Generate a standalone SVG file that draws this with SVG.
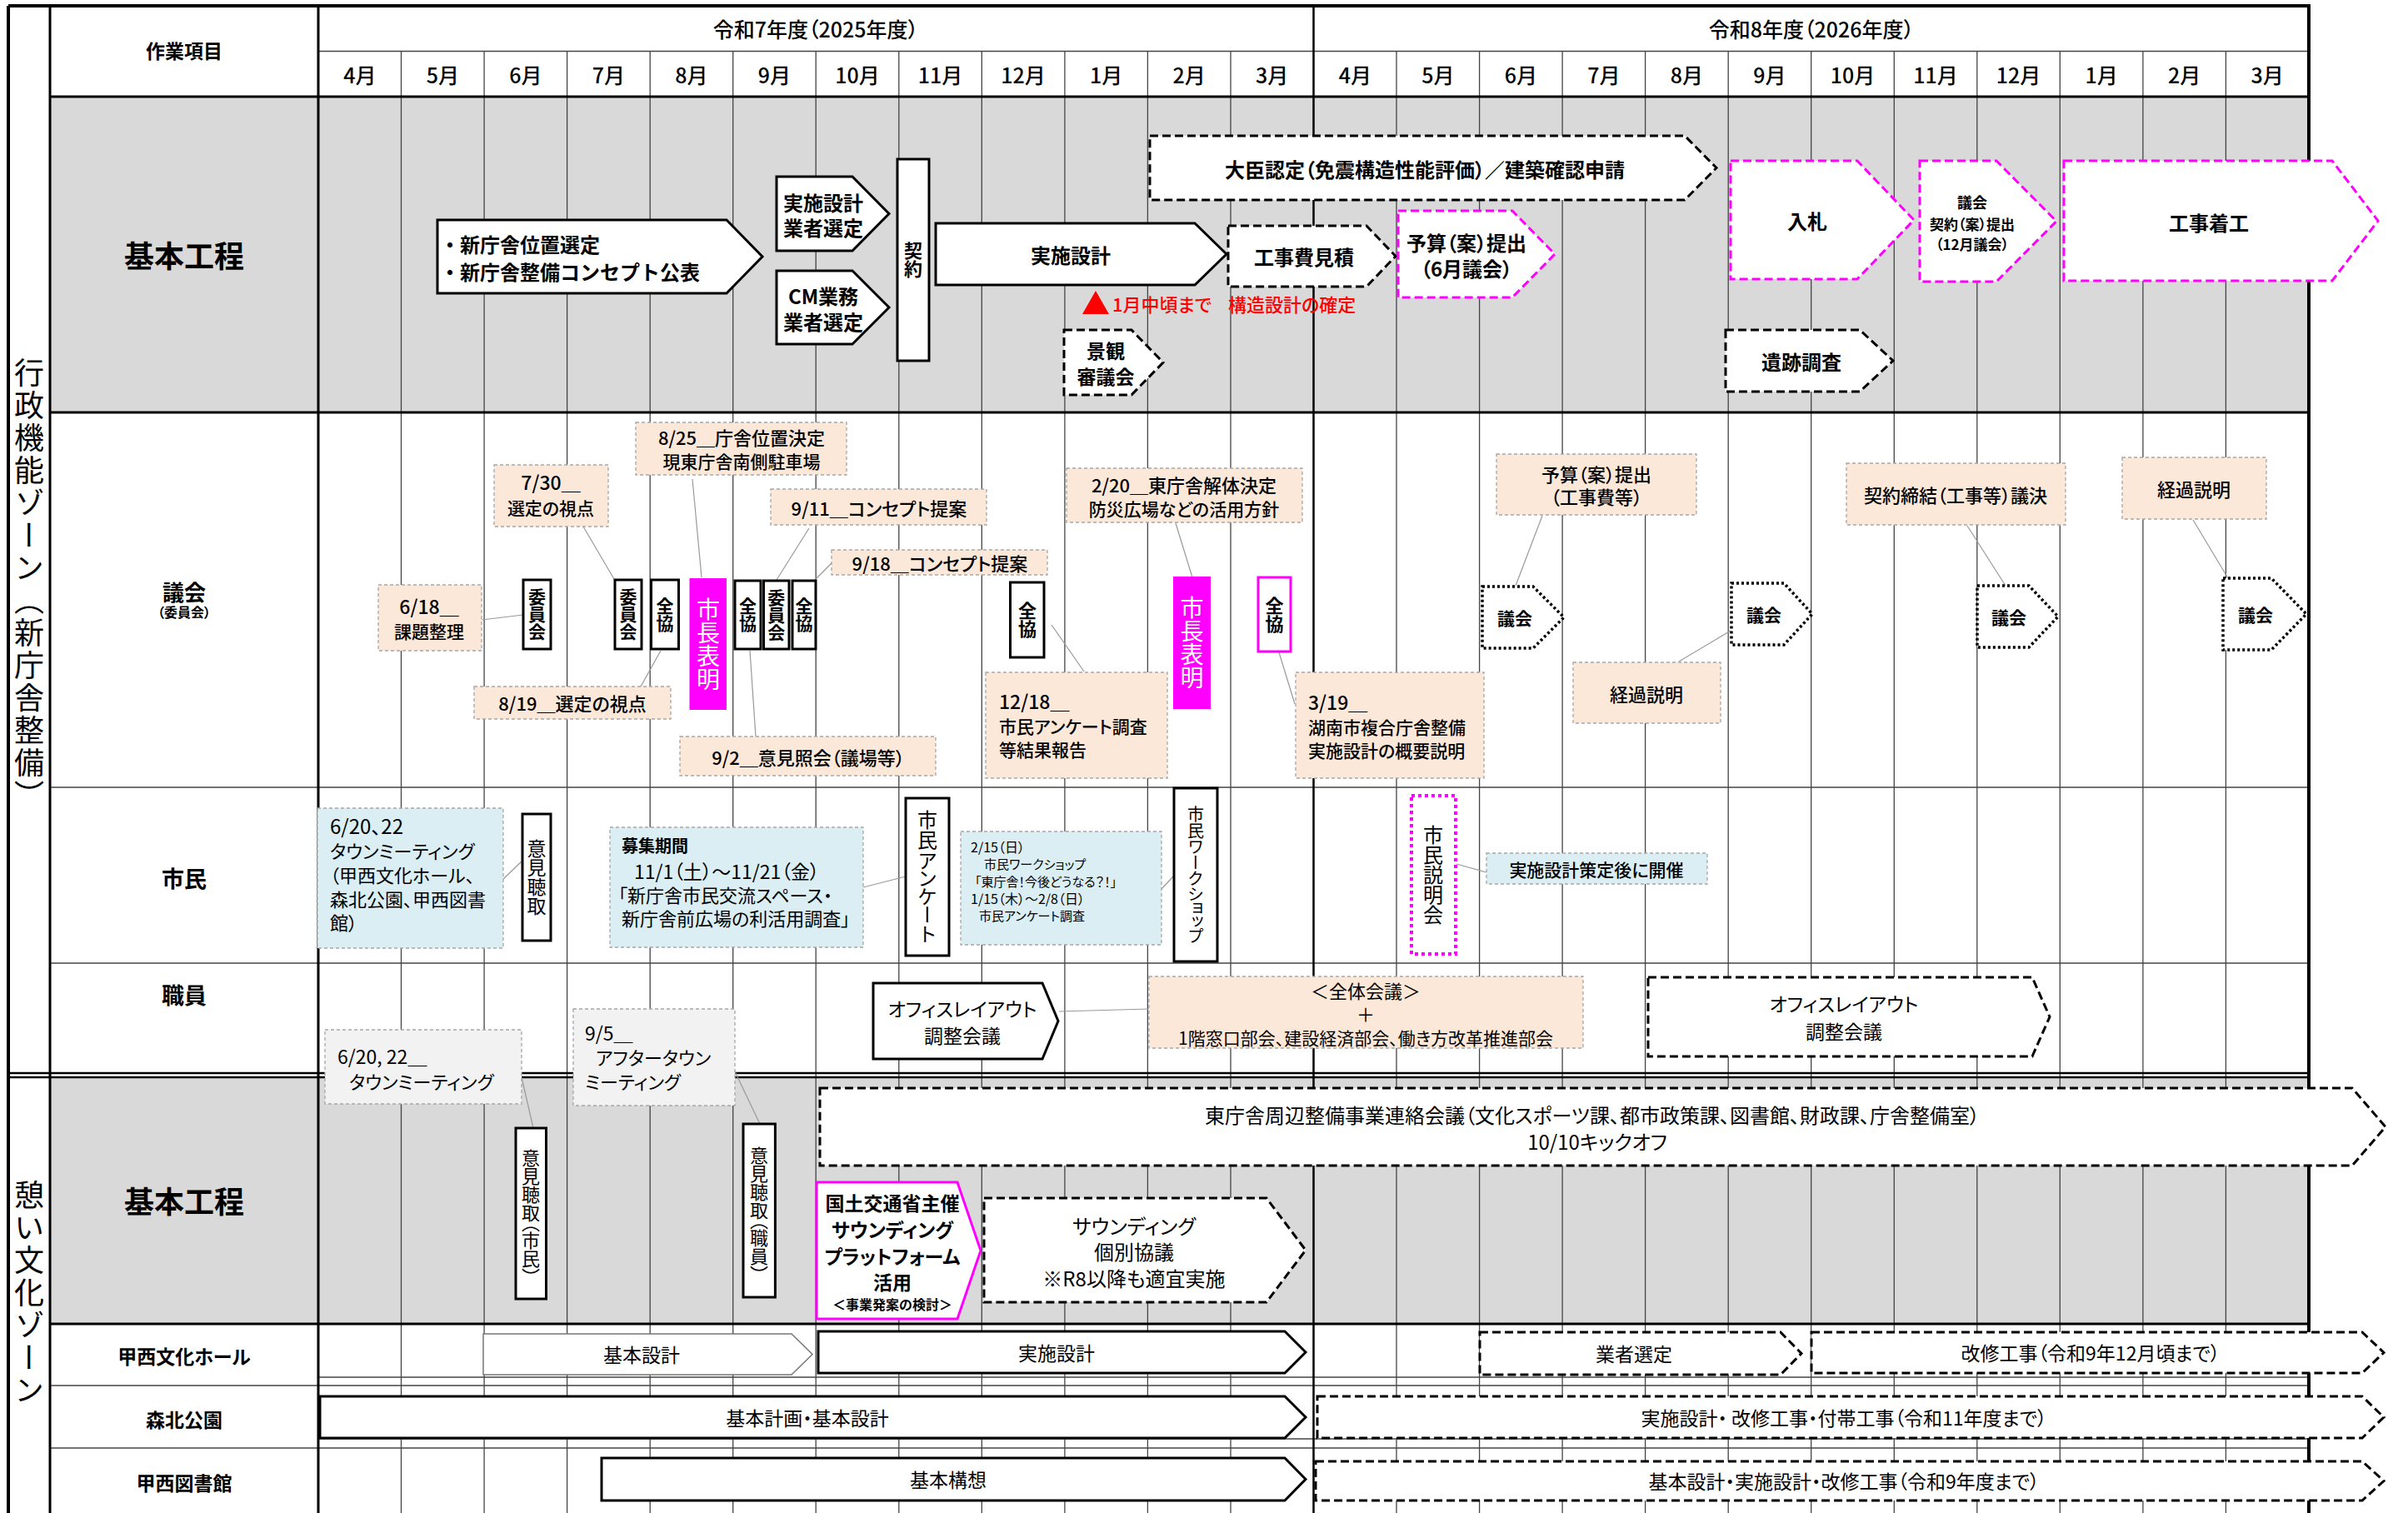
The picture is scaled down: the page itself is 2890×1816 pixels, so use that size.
<svg xmlns="http://www.w3.org/2000/svg" width="2890" height="1816" viewBox="0 0 2890 1816">
<style>
text{font-family:"Noto Sans CJK JP","Noto Sans",sans-serif;dominant-baseline:central;fill:#000;font-feature-settings:"palt"}
.c{text-anchor:middle}
.b{font-weight:bold}
.m{font-weight:500}
.v{writing-mode:vertical-rl;text-anchor:middle;font-feature-settings:"vpal"}
.np{font-feature-settings:normal}
.gl{stroke:#444;stroke-width:1.3}
.tk{stroke:#000;stroke-width:3.5}
.sol{fill:#fff;stroke:#000;stroke-width:3}
.thin{fill:#fff;stroke:#777;stroke-width:1.5}
.dash{fill:#fff;stroke:#000;stroke-width:3;stroke-dasharray:10 5}
.dot{fill:#fff;stroke:#000;stroke-width:3.5;stroke-dasharray:3 3}
.mdash{fill:#fff;stroke:#FF00FF;stroke-width:3;stroke-dasharray:10 5}
.mdot{fill:#fff;stroke:#FF00FF;stroke-width:4;stroke-dasharray:4 4}
.msol{fill:#fff;stroke:#FF00FF;stroke-width:3}
.mfill{fill:#FF00FF;stroke:#FF00FF;stroke-width:2}
.pe{fill:#FCE8D8;stroke:#A6A6A6;stroke-width:1.3;stroke-dasharray:4 3}
.bl{fill:#DAEEF3;stroke:#A6A6A6;stroke-width:1.3;stroke-dasharray:4 3}
.gy{fill:#F2F2F2;stroke:#A6A6A6;stroke-width:1.3;stroke-dasharray:4 3}
.cn{stroke:#999;stroke-width:1.2;fill:none}
.w{fill:#fff}
.r{fill:#FF0000}
</style>
<rect width="2890" height="1816" fill="#fff"/>
<g id="grid">
<rect x="60" y="116" width="2711" height="379" fill="#D9D9D9"/>
<rect x="60" y="1292" width="2711" height="297" fill="#D9D9D9"/>
<g class="gl">
<line x1="481.5" y1="61.5" x2="481.5" y2="1816"/>
<line x1="581.1" y1="61.5" x2="581.1" y2="1816"/>
<line x1="680.6" y1="61.5" x2="680.6" y2="1816"/>
<line x1="780.2" y1="61.5" x2="780.2" y2="1816"/>
<line x1="879.7" y1="61.5" x2="879.7" y2="1816"/>
<line x1="979.2" y1="61.5" x2="979.2" y2="1816"/>
<line x1="1078.8" y1="61.5" x2="1078.8" y2="1816"/>
<line x1="1178.3" y1="61.5" x2="1178.3" y2="1816"/>
<line x1="1277.9" y1="61.5" x2="1277.9" y2="1816"/>
<line x1="1377.4" y1="61.5" x2="1377.4" y2="1816"/>
<line x1="1477" y1="61.5" x2="1477" y2="1816"/>
<line x1="1676" y1="61.5" x2="1676" y2="1816"/>
<line x1="1775.6" y1="61.5" x2="1775.6" y2="1816"/>
<line x1="1875.1" y1="61.5" x2="1875.1" y2="1816"/>
<line x1="1974.6" y1="61.5" x2="1974.6" y2="1816"/>
<line x1="2074.2" y1="61.5" x2="2074.2" y2="1816"/>
<line x1="2173.7" y1="61.5" x2="2173.7" y2="1816"/>
<line x1="2273.3" y1="61.5" x2="2273.3" y2="1816"/>
<line x1="2372.8" y1="61.5" x2="2372.8" y2="1816"/>
<line x1="2472.3" y1="61.5" x2="2472.3" y2="1816"/>
<line x1="2571.9" y1="61.5" x2="2571.9" y2="1816"/>
<line x1="2671.4" y1="61.5" x2="2671.4" y2="1816"/>
<line x1="382" y1="61.5" x2="2771" y2="61.5"/>
<line x1="60" y1="945" x2="2771" y2="945"/>
<line x1="60" y1="1156" x2="2771" y2="1156"/>
<line x1="382" y1="1653" x2="2771" y2="1653"/>
<line x1="60" y1="1663" x2="2771" y2="1663"/>
<line x1="382" y1="1727" x2="2771" y2="1727"/>
<line x1="60" y1="1738" x2="2771" y2="1738"/>
</g>
<g class="tk">
<line x1="1576.5" y1="7" x2="1576.5" y2="1816" stroke-width="2.5"/>
<line x1="60" y1="116" x2="2771" y2="116" stroke-width="3"/>
<line x1="60" y1="495" x2="2771" y2="495" stroke-width="3"/>
<line x1="10" y1="1288" x2="2771" y2="1288" stroke-width="2.5"/>
<line x1="10" y1="1293" x2="2771" y2="1293" stroke-width="2.5"/>
<line x1="60" y1="1589" x2="2771" y2="1589" stroke-width="3"/>
<line x1="10" y1="7" x2="2773" y2="7" stroke-width="4"/>
<line x1="10" y1="7" x2="10" y2="1816" stroke-width="4"/>
<line x1="60" y1="7" x2="60" y2="1816" stroke-width="3"/>
<line x1="382" y1="7" x2="382" y2="1816" stroke-width="3"/>
<line x1="2771" y1="7" x2="2771" y2="1816" stroke-width="4"/>
</g>
</g>
<g id="header">
<text class="c b" x="221" y="60" font-size="23">作業項目</text>
<text class="c m" x="979" y="34" font-size="25">令和7年度（2025年度）</text>
<text class="c m" x="2174" y="34" font-size="25">令和8年度（2026年度）</text>
<g class="c m" font-size="25">
<text x="431.8" y="89">4月</text><text x="531.3" y="89">5月</text><text x="630.9" y="89">6月</text><text x="730.4" y="89">7月</text><text x="829.9" y="89">8月</text><text x="929.5" y="89">9月</text><text x="1029" y="89">10月</text><text x="1128.6" y="89">11月</text><text x="1228.1" y="89">12月</text><text x="1327.6" y="89">1月</text><text x="1427.2" y="89">2月</text><text x="1526.7" y="89">3月</text>
<text x="1626.3" y="89">4月</text><text x="1725.8" y="89">5月</text><text x="1825.3" y="89">6月</text><text x="1924.9" y="89">7月</text><text x="2024.4" y="89">8月</text><text x="2124" y="89">9月</text><text x="2223.5" y="89">10月</text><text x="2323" y="89">11月</text><text x="2422.6" y="89">12月</text><text x="2522.1" y="89">1月</text><text x="2621.7" y="89">2月</text><text x="2721.2" y="89">3月</text>
</g>
</g>
<g id="labels">
<text class="v" x="35" y="702" font-size="36" letter-spacing="3" style="font-feature-settings:normal">行政機能ゾーン（新庁舎整備）</text>
<text class="v" x="35" y="1553" font-size="36" letter-spacing="3" style="font-feature-settings:normal">憩い文化ゾーン</text>
<text class="c b" x="221" y="305" font-size="36">基本工程</text>
<text class="c b" x="221" y="709" font-size="26">議会</text>
<text class="c b" x="221" y="734" font-size="16">（委員会）</text>
<text class="c b" x="221" y="1053" font-size="27">市民</text>
<text class="c b" x="221" y="1193" font-size="27">職員</text>
<text class="c b" x="221" y="1440" font-size="36">基本工程</text>
<text class="c b" x="221" y="1627" font-size="23">甲西文化ホール</text>
<text class="c b" x="221" y="1703" font-size="23">森北公園</text>
<text class="c b" x="221" y="1779" font-size="23">甲西図書館</text>
</g>
<g id="connectors">
<line class="cn" x1="578" y1="744" x2="628" y2="738"/>
<line class="cn" x1="700" y1="632" x2="737" y2="695"/>
<line class="cn" x1="831" y1="575" x2="842" y2="693"/>
<line class="cn" x1="971" y1="634" x2="932" y2="696"/>
<line class="cn" x1="998" y1="676" x2="978" y2="696"/>
<line class="cn" x1="769" y1="824" x2="793" y2="781"/>
<line class="cn" x1="907" y1="884" x2="900" y2="781"/>
<line class="cn" x1="1301" y1="806" x2="1262" y2="750"/>
<line class="cn" x1="1411" y1="628" x2="1431" y2="693"/>
<line class="cn" x1="1554" y1="845" x2="1535" y2="783"/>
<line class="cn" x1="1851" y1="619" x2="1819" y2="703"/>
<line class="cn" x1="2015" y1="794" x2="2077" y2="757"/>
<line class="cn" x1="2361" y1="631" x2="2407" y2="703"/>
<line class="cn" x1="2632" y1="624" x2="2674" y2="694"/>
<line class="cn" x1="604" y1="1055" x2="627" y2="1033"/>
<line class="cn" x1="1036" y1="1065" x2="1087" y2="1052"/>
<line class="cn" x1="1394" y1="1067" x2="1409" y2="1051"/>
<line class="cn" x1="1748" y1="1037" x2="1784" y2="1047"/>
<line class="cn" x1="1271" y1="1214" x2="1379" y2="1211"/>
<line class="cn" x1="626" y1="1293" x2="640" y2="1354"/>
<line class="cn" x1="882" y1="1286" x2="912" y2="1349"/>
</g>
<g id="n-shinchosha"><path class="sol" d="M525,264 H872 L915,308 L872,352 H525 Z"/><text class="b np" x="528" y="292" font-size="24">・新庁舎位置選定</text><text class="b np" x="528" y="325" font-size="24">・新庁舎整備コンセプト公表</text></g>
<g id="n-jisshi-gyosha"><path class="sol" d="M932,212 H1023 L1067,256.5 L1023,301 H932 Z"/><text class="c b" x="988" y="242" font-size="24">実施設計</text><text class="c b" x="988" y="272" font-size="24">業者選定</text></g>
<g id="n-cm"><path class="sol" d="M932,325 H1023 L1067,369 L1023,413 H932 Z"/><text class="c b" x="988" y="354" font-size="24">CM業務</text><text class="c b" x="988" y="385" font-size="24">業者選定</text></g>
<g id="n-keiyaku"><rect class="sol" x="1077" y="191" width="38" height="242"/><text class="v b" x="1096" y="312" font-size="22">契約</text></g>
<g id="n-jisshi"><path class="sol" d="M1123,268 H1434 L1472,305 L1434,342 H1123 Z"/><text class="c b" x="1285" y="305" font-size="24">実施設計</text></g>
<g id="n-note"><path class="r" d="M1315,349 L1331,377 L1299,377 Z"/><text class="r m" x="1335" y="364" font-size="22">1月中頃まで</text><text class="r m" x="1474" y="364" font-size="22">構造設計の確定</text></g>
<g id="n-keikan"><path class="dash" d="M1277,396 H1358 L1396,435 L1358,474 H1277 Z"/><text class="c b" x="1327" y="420" font-size="23">景観</text><text class="c b" x="1327" y="451" font-size="23">審議会</text></g>
<g id="n-daijin"><path class="dash" d="M1380,163 H2022 L2060,201.5 L2022,240 H1380 Z"/><text class="c b" x="1710" y="202" font-size="24">大臣認定（免震構造性能評価）／建築確認申請</text></g>
<g id="n-mitsumori"><path class="dash" d="M1474,271 H1640 L1675,307.5 L1640,344 H1474 Z"/><text class="c b" x="1565" y="307" font-size="24">工事費見積</text></g>
<g id="n-yosan6"><path class="mdash" d="M1678,253 H1815 L1866,305 L1815,357 H1678 Z"/><text class="c b" x="1760" y="290" font-size="24">予算（案）提出</text><text class="c b" x="1760" y="321" font-size="24">（6月議会）</text></g>
<g id="n-nyusatsu"><path class="mdash" d="M2077,193 H2229 L2297,264 L2229,335 H2077 Z"/><text class="c b" x="2169" y="264" font-size="24">入札</text></g>
<g id="n-gikai12"><path class="mdash" d="M2304,193 H2396 L2468,265.5 L2396,338 H2304 Z"/><text class="c b" x="2367" y="242" font-size="18">議会</text><text class="c b" x="2367" y="268" font-size="17">契約（案）提出</text><text class="c b" x="2367" y="292" font-size="17">（12月議会）</text></g>
<g id="n-chakko"><path class="mdash" d="M2477,193 H2799 L2854,265 L2799,337 H2477 Z"/><text class="c b" x="2651" y="266" font-size="24">工事着工</text></g>
<g id="n-iseki"><path class="dash" d="M2071,396 H2232 L2272,433 L2232,470 H2071 Z"/><text class="c b" x="2162" y="433" font-size="24">遺跡調査</text></g>
<g id="n-c618"><rect class="pe" x="454" y="702" width="124" height="79"/><text class="c m" x="515" y="727" font-size="23">6/18＿</text><text class="c m" x="515" y="757" font-size="21">課題整理</text></g>
<g id="n-c730"><rect class="pe" x="593" y="558" width="137" height="74"/><text class="c m" x="661" y="578" font-size="23">7/30＿</text><text class="c m" x="661" y="609" font-size="21">選定の視点</text></g>
<g id="n-c825"><rect class="pe" x="763" y="507" width="253" height="63"/><text class="c m" x="890" y="524" font-size="22">8/25＿庁舎位置決定</text><text class="c m" x="890" y="553" font-size="21">現東庁舎南側駐車場</text></g>
<g id="n-c911"><rect class="pe" x="925" y="587" width="259" height="43"/><text class="c m" x="1055" y="609" font-size="22">9/11＿コンセプト提案</text></g>
<g id="n-c918"><rect class="pe" x="998" y="660" width="259" height="30"/><text class="c m" x="1128" y="675" font-size="22">9/18＿コンセプト提案</text></g>
<g id="n-c819"><rect class="pe" x="569" y="824" width="236" height="39"/><text class="c m" x="687" y="843" font-size="22">8/19＿選定の視点</text></g>
<g id="n-c92"><rect class="pe" x="816" y="884" width="307" height="47"/><text class="c m" x="970" y="908" font-size="22">9/2＿意見照会（議場等）</text></g>
<g id="n-c1218"><rect class="pe" x="1183" y="807" width="218" height="127"/><text class="m" x="1199" y="841" font-size="23">12/18＿</text><text class="m" x="1199" y="871" font-size="21">市民アンケート調査</text><text class="m" x="1199" y="899" font-size="21">等結果報告</text></g>
<g id="n-c220"><rect class="pe" x="1280" y="562" width="283" height="65"/><text class="c m" x="1421" y="581" font-size="22">2/20＿東庁舎解体決定</text><text class="c m" x="1421" y="610" font-size="21">防災広場などの活用方針</text></g>
<g id="n-c319"><rect class="pe" x="1555" y="807" width="226" height="127"/><text class="m" x="1570" y="842" font-size="23">3/19＿</text><text class="m" x="1570" y="872" font-size="21">湖南市複合庁舎整備</text><text class="m" x="1570" y="900" font-size="21">実施設計の概要説明</text></g>
<g id="n-cyosan"><rect class="pe" x="1796" y="545" width="240" height="73"/><text class="c m" x="1916" y="568" font-size="22">予算（案）提出</text><text class="c m" x="1916" y="595" font-size="22">（工事費等）</text></g>
<g id="n-ckeika1"><rect class="pe" x="1888" y="795" width="177" height="73"/><text class="c m" x="1976" y="832" font-size="22">経過説明</text></g>
<g id="n-ckeiyaku"><rect class="pe" x="2216" y="556" width="263" height="74"/><text class="c m" x="2347" y="593" font-size="22">契約締結（工事等）議決</text></g>
<g id="n-ckeika2"><rect class="pe" x="2547" y="549" width="173" height="74"/><text class="c m" x="2633" y="586" font-size="22">経過説明</text></g>
<g id="n-v1"><rect class="sol" x="628" y="696" width="33" height="83"/><text class="v b" x="644.5" y="737.5" font-size="21">委員会</text></g>
<g id="n-v2"><rect class="sol" x="738" y="696" width="32" height="83"/><text class="v b" x="754" y="737.5" font-size="21">委員会</text></g>
<g id="n-v3"><rect class="sol" x="781.5" y="696" width="33" height="83"/><text class="v b" x="798" y="737.5" font-size="21">全協</text></g>
<g id="n-v4"><rect class="mfill" x="828.5" y="695" width="42.5" height="156"/><text class="v w" x="850" y="773" font-size="28">市長表明</text></g>
<g id="n-v5"><rect class="sol" x="882" y="697" width="31" height="82"/><text class="v b" x="897.5" y="738" font-size="21">全協</text></g>
<g id="n-v6"><rect class="sol" x="916.5" y="697" width="30.5" height="82"/><text class="v b" x="931.7" y="738" font-size="21">委員会</text></g>
<g id="n-v7"><rect class="sol" x="951" y="697" width="28" height="82"/><text class="v b" x="965" y="738" font-size="21">全協</text></g>
<g id="n-v8"><rect class="sol" x="1212.5" y="699" width="40.5" height="90"/><text class="v b" x="1233" y="744" font-size="22">全協</text></g>
<g id="n-v9"><rect class="mfill" x="1409" y="693" width="43" height="157"/><text class="v w" x="1430.5" y="771.5" font-size="28">市長表明</text></g>
<g id="n-v10"><rect class="msol" x="1510" y="693" width="39" height="89"/><text class="v b" x="1529.5" y="737.5" font-size="22">全協</text></g>
<g id="n-g1"><path class="dot" d="M1779,704 H1840 L1877,741 L1840,778 H1779 Z"/><text class="c b" x="1818" y="741" font-size="21">議会</text></g>
<g id="n-g2"><path class="dot" d="M2078,700 H2141 L2175,737 L2141,774 H2078 Z"/><text class="c b" x="2117" y="737" font-size="21">議会</text></g>
<g id="n-g3"><path class="dot" d="M2373,703 H2435 L2470,740 L2435,777 H2373 Z"/><text class="c b" x="2411" y="740" font-size="21">議会</text></g>
<g id="n-g4"><path class="dot" d="M2668,694 H2726 L2768,737 L2726,780 H2668 Z"/><text class="c b" x="2707" y="737" font-size="21">議会</text></g>
<g id="n-town"><rect class="bl" x="381" y="970" width="223" height="168"/><text x="396" y="990" font-size="24">6/20、22</text><text x="396" y="1020" font-size="22">タウンミーティング</text><text x="396" y="1049" font-size="22">（甲西文化ホール、</text><text x="396" y="1078" font-size="22">森北公園、甲西図書</text><text x="396" y="1106" font-size="22">館）</text></g>
<g id="n-iken1"><rect class="sol" x="627" y="977" width="34" height="152"/><text class="v" x="644" y="1053" font-size="23">意見聴取</text></g>
<g id="n-boshu"><rect class="bl" x="732" y="993" width="304" height="144"/><text class="b" x="746" y="1014" font-size="20">募集期間</text><text x="761" y="1045" font-size="23">11/1（土）～11/21（金）</text><text x="742" y="1073" font-size="22">「新庁舎市民交流スペース・</text><text x="746" y="1101" font-size="22">新庁舎前広場の利活用調査」</text></g>
<g id="n-enquete"><rect class="sol" x="1087" y="958" width="52" height="189"/><text class="v" x="1113" y="1052" font-size="24">市民アンケート</text></g>
<g id="n-ws"><rect class="bl" x="1153" y="998" width="241" height="136"/><text x="1165" y="1016" font-size="16">2/15（日）</text><text x="1181" y="1036" font-size="15">市民ワークショップ</text><text x="1170" y="1057" font-size="15">「東庁舎！今後どうなる？！」</text><text x="1165" y="1078" font-size="16">1/15（木）～2/8（日）</text><text x="1175" y="1098" font-size="15">市民アンケート調査</text></g>
<g id="n-wsv"><rect class="sol" x="1409" y="946" width="52" height="208"/><text class="v" x="1435" y="1050" font-size="20">市民ワークショップ</text></g>
<g id="n-setsumei"><rect class="mdot" x="1694" y="955" width="53" height="190"/><text class="v" x="1720" y="1050" font-size="24">市民説明会</text></g>
<g id="n-kaisai"><rect class="bl" x="1784" y="1024" width="265" height="37"/><text class="c m" x="1916" y="1043" font-size="21">実施設計策定後に開催</text></g>
<g id="n-office1"><path class="sol" d="M1048,1180 H1251 L1270,1225.5 L1251,1271 H1048 Z"/><text class="c" x="1155" y="1210" font-size="23">オフィスレイアウト</text><text class="c" x="1155" y="1242" font-size="23">調整会議</text></g>
<g id="n-zentai"><rect class="pe" x="1379" y="1172" width="521" height="86"/><text class="c" x="1639" y="1188" font-size="22">＜全体会議＞</text><text class="c" x="1639" y="1216" font-size="22">＋</text><text class="c" x="1639" y="1245" font-size="21">1階窓口部会、建設経済部会、働き方改革推進部会</text></g>
<g id="n-office2"><path class="dash" d="M1978,1173 H2439 L2460,1220.5 L2439,1268 H1978 Z"/><text class="c" x="2213" y="1204" font-size="23">オフィスレイアウト</text><text class="c" x="2213" y="1237" font-size="23">調整会議</text></g>
<g id="n-c620"><rect class="gy" x="390" y="1236" width="236" height="89"/><text x="405" y="1267" font-size="23">6/20, 22＿</text><text x="419" y="1297" font-size="22">タウンミーティング</text></g>
<g id="n-c95"><rect class="gy" x="688" y="1211" width="194" height="116"/><text x="702" y="1239" font-size="23">9/5＿</text><text x="715" y="1268" font-size="22">アフタータウン</text><text x="702" y="1297" font-size="22">ミーティング</text></g>
<g id="n-iken2"><rect class="sol" x="619" y="1354" width="36.5" height="205"/><text class="v" x="637" y="1456" font-size="22">意見聴取（市民）</text></g>
<g id="n-iken3"><rect class="sol" x="892" y="1349" width="38.4" height="208"/><text class="v" x="911" y="1453" font-size="22">意見聴取（職員）</text></g>
<g id="n-renraku"><path class="dash" d="M984,1306 H2823 L2863,1352.5 L2823,1399 H984 Z"/><text class="c" x="1911" y="1337" font-size="24">東庁舎周辺整備事業連絡会議（文化スポーツ課、都市政策課、図書館、財政課、庁舎整備室）</text><text class="c" x="1917" y="1369" font-size="24">10/10キックオフ</text></g>
<g id="n-kokudo"><path class="msol" d="M980,1419 H1149 L1177,1501 L1149,1583 H980 Z"/><text class="c b" x="1071" y="1443" font-size="23">国土交通省主催</text><text class="c b" x="1071" y="1475" font-size="23">サウンディング</text><text class="c b" x="1071" y="1507" font-size="23">プラットフォーム</text><text class="c b" x="1071" y="1538" font-size="23">活用</text><text class="c b" x="1071" y="1565" font-size="16">＜事業発案の検討＞</text></g>
<g id="n-sounding"><path class="dash" d="M1181,1438 H1520 L1567,1500.5 L1520,1563 H1181 Z"/><text class="c" x="1361" y="1470" font-size="24">サウンディング</text><text class="c" x="1361" y="1501" font-size="24">個別協議</text><text class="c" x="1361" y="1533" font-size="24">※R8以降も適宜実施</text></g>
<g id="n-hall1"><path class="thin" d="M580,1601 H950 L975,1625.5 L950,1650 H580 Z"/><text class="c" x="770" y="1625" font-size="23">基本設計</text></g>
<g id="n-hall2"><path class="sol" d="M982,1598 H1542 L1567,1623 L1542,1648 H982 Z" stroke-width="2.5"/><text class="c" x="1268" y="1623" font-size="23">実施設計</text></g>
<g id="n-hall3"><path class="dash" d="M1776,1599 H2137 L2162,1624.5 L2137,1650 H1776 Z" stroke-width="2.5"/><text class="c" x="1961" y="1624" font-size="23">業者選定</text></g>
<g id="n-hall4"><path class="dash" d="M2174,1599 H2835 L2861,1623.5 L2835,1648 H2174 Z" stroke-width="2.5"/><text class="c" x="2509" y="1623" font-size="23">改修工事（令和9年12月頃まで）</text></g>
<g id="n-park1"><path class="sol" d="M384,1676 H1542 L1567,1701 L1542,1726 H384 Z" stroke-width="2.5"/><text class="c" x="969" y="1701" font-size="23">基本計画・基本設計</text></g>
<g id="n-park2"><path class="dash" d="M1581,1676 H2835 L2861,1701 L2835,1726 H1581 Z" stroke-width="2.5"/><text class="c" x="2213" y="1701" font-size="23">実施設計・ 改修工事・付帯工事（令和11年度まで）</text></g>
<g id="n-lib1"><path class="sol" d="M722,1750 H1542 L1567,1775.5 L1542,1801 H722 Z" stroke-width="2.5"/><text class="c" x="1138" y="1775" font-size="23">基本構想</text></g>
<g id="n-lib2"><path class="dash" d="M1579,1754 H2835 L2861,1777.5 L2835,1801 H1579 Z" stroke-width="2.5"/><text class="c" x="2213" y="1777" font-size="23">基本設計・実施設計・改修工事（令和9年度まで）</text></g>
</svg>
